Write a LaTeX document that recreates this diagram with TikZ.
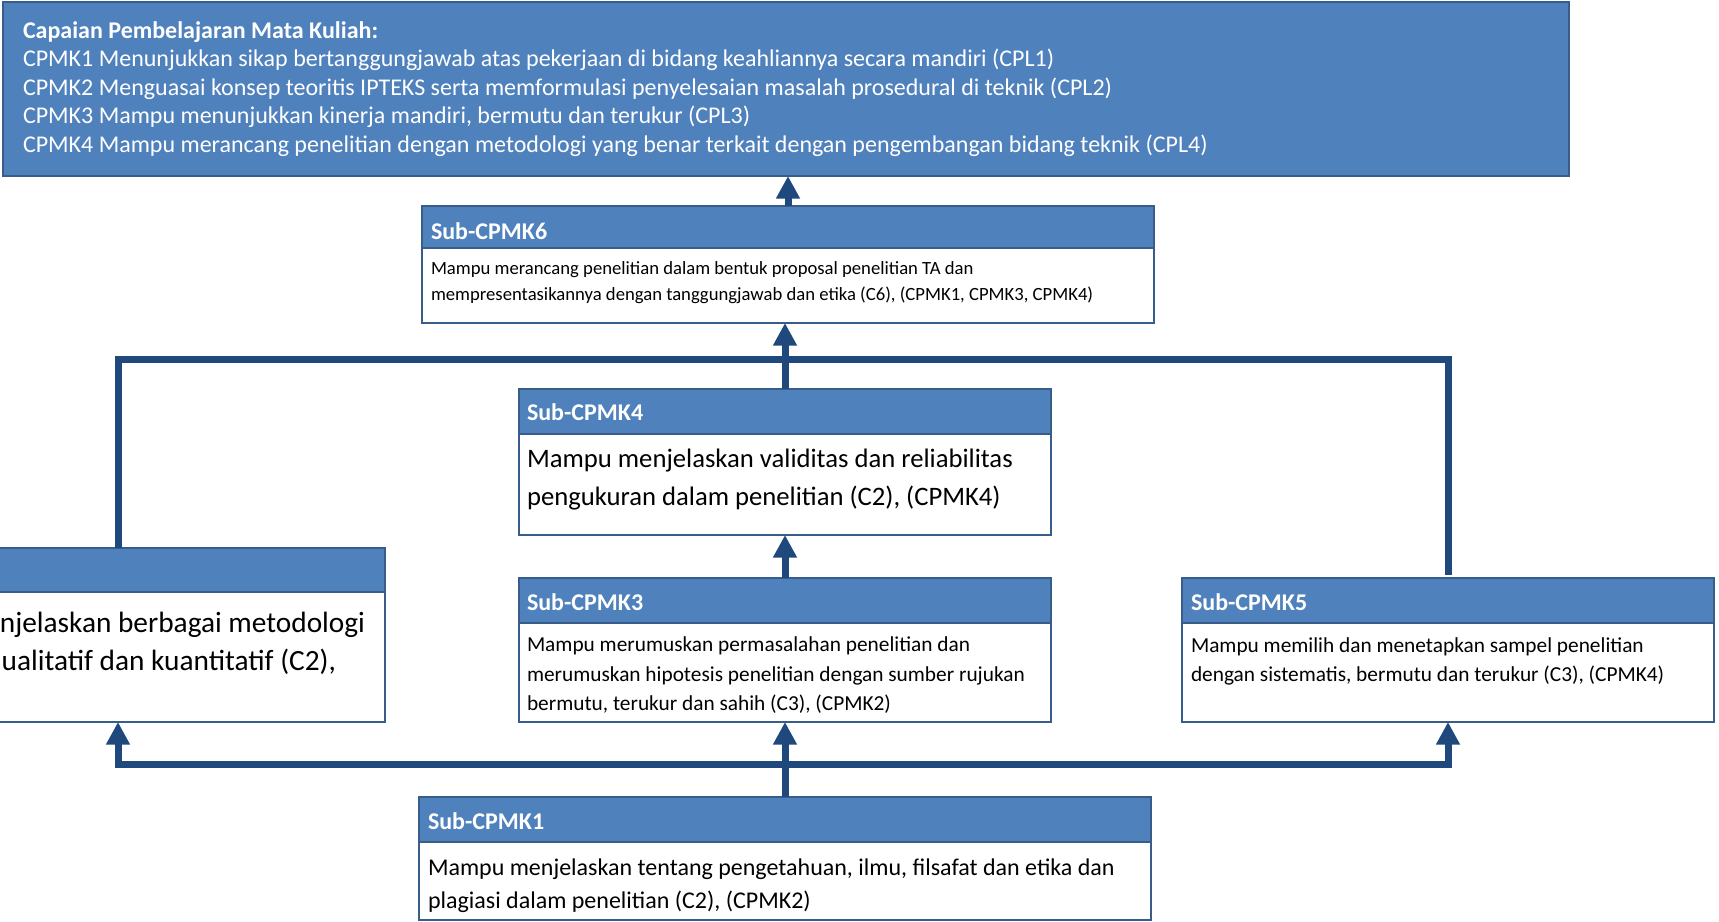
\documentclass[tikz,border=0pt]{standalone}
\usepackage{fontspec}
\setmainfont{Carlito}
\usetikzlibrary{arrows.meta,fit,calc}
\definecolor{hdr}{RGB}{79,129,189}
\definecolor{bord}{RGB}{56,93,138}
\definecolor{conn}{RGB}{31,73,125}
\begin{document}
\begin{tikzpicture}[x=0.75pt,y=-0.75pt,
  bodybox/.style={draw=bord,line width=1.5pt,fill=white,inner sep=0pt,outer sep=0pt},
  headbox/.style={draw=bord,line width=1.5pt,fill=hdr,inner sep=0pt,outer sep=0pt},
  hdrtext/.style={anchor=base west,inner sep=0pt,outer sep=0pt,text=white,font=\fontsize{18}{22}\selectfont\bfseries},
  toptext/.style={anchor=base west,inner sep=0pt,outer sep=0pt,text=white,font=\fontsize{18}{22}\selectfont},
  txtA/.style={anchor=base west,inner sep=0pt,outer sep=0pt,text=black,font=\fontsize{14}{17}\selectfont},
  txtB/.style={anchor=base west,inner sep=0pt,outer sep=0pt,text=black,font=\fontsize{16}{19}\selectfont},
  txtC/.style={anchor=base west,inner sep=0pt,outer sep=0pt,text=black,font=\fontsize{18}{22}\selectfont},
  txtD/.style={anchor=base west,inner sep=0pt,outer sep=0pt,text=black,font=\fontsize{20}{24}\selectfont},
  txtE/.style={anchor=base east,inner sep=0pt,outer sep=0pt,text=black,font=\fontsize{22}{26}\selectfont},
  ln/.style={draw=conn,line width=5.25pt},
  arr/.style={draw=conn,line width=5.25pt,-{Triangle[width=17pt,length=17pt]}}
]
\clip (0,0) rectangle (1719,921);
\fill[white] (0,0) rectangle (1719,921);

% top box
\node[headbox, fit={(3,2)(1569,176)}] (top) {};
\node[toptext, font=\fontsize{18}{22}\selectfont\bfseries] (tt0) at (23,38) {Capaian Pembelajaran Mata Kuliah:};
\node[toptext] (tt1) at (23,66.6) {CPMK1 Menunjukkan sikap bertanggungjawab atas pekerjaan di bidang keahliannya secara mandiri (CPL1)};
\node[toptext] (tt2) at (23,95.2) {CPMK2 Menguasai konsep teoritis IPTEKS serta memformulasi penyelesaian masalah prosedural di teknik (CPL2)};
\node[toptext] (tt3) at (23,123.8) {CPMK3 Mampu menunjukkan kinerja mandiri, bermutu dan terukur (CPL3)};
\node[toptext] (tt4) at (23,152.4) {CPMK4 Mampu merancang penelitian dengan metodologi yang benar terkait dengan pengembangan bidang teknik (CPL4)};

% Sub-CPMK6
\node[bodybox, fit={(422,206)(1154,323)}] (b6) {};
\node[headbox, fit={(422,206)(1154,248)}] (h6) {};
\node[hdrtext] (h6t) at (431,239) {Sub-CPMK6};
\node[txtA] (t6a) at (431,274) {Mampu merancang penelitian dalam bentuk proposal penelitian TA dan};
\node[txtA] (t6b) at (431,300) {mempresentasikannya dengan tanggungjawab dan etika (C6), (CPMK1, CPMK3, CPMK4)};

% Sub-CPMK4
\node[bodybox, fit={(519,389)(1051,535)}] (b4) {};
\node[headbox, fit={(519,389)(1051,434)}] (h4) {};
\node[hdrtext] (h4t) at (527,420) {Sub-CPMK4};
\node[txtD] (t4a) at (527,467) {Mampu menjelaskan validitas dan reliabilitas};
\node[txtD] (t4b) at (527,505) {pengukuran dalam penelitian (C2), (CPMK4)};

% Sub-CPMK3
\node[bodybox, fit={(519,578)(1051,722)}] (b3) {};
\node[headbox, fit={(519,578)(1051,623)}] (h3) {};
\node[hdrtext] (h3t) at (527,610) {Sub-CPMK3};
\node[txtB] (t3a) at (527,651) {Mampu merumuskan permasalahan penelitian dan};
\node[txtB] (t3b) at (527,681) {merumuskan hipotesis penelitian dengan sumber rujukan};
\node[txtB] (t3c) at (527,710) {bermutu, terukur dan sahih (C3), (CPMK2)};

% Sub-CPMK5
\node[bodybox, fit={(1182,578)(1714,722)}] (b5) {};
\node[headbox, fit={(1182,578)(1714,623)}] (h5) {};
\node[hdrtext] (h5t) at (1191,610) {Sub-CPMK5};
\node[txtB] (t5a) at (1191,652) {Mampu memilih dan menetapkan sampel penelitian};
\node[txtB] (t5b) at (1191,681) {dengan sistematis, bermutu dan terukur (C3), (CPMK4)};

% Sub-CPMK2 (cut at left edge)
\node[bodybox, fit={(-149,548)(385,722)}] (b2) {};
\node[headbox, fit={(-149,548)(385,592)}] (h2) {};
\node[txtE] (t2a) at (365,632) {njelaskan berbagai metodologi};
\node[txtE] (t2b) at (336,670) {ualitatif dan kuantitatif (C2),};

% Sub-CPMK1
\node[bodybox, fit={(419,797)(1151,920)}] (b1) {};
\node[headbox, fit={(419,797)(1151,842)}] (h1) {};
\node[hdrtext] (h1t) at (428,829) {Sub-CPMK1};
\node[txtC] (t1a) at (428,875) {Mampu menjelaskan tentang pengetahuan, ilmu, filsafat dan etika dan};
\node[txtC] (t1b) at (428,908) {plagiasi dalam penelitian (C2), (CPMK2)};

% connectors
\coordinate (jt) at (785,359.5);
\coordinate (jb) at (785,764.5);
\draw[arr] (b6.north) -- (b6.north |- top.south);
\draw[arr] (b4.north) -- (b4.north |- b6.south);
\draw[ln] (b2.north) |- (jt) -| ($(b5.north)+(0,-3)$);
\draw[arr] (b3.north) -- (b4.south);
\draw[arr] (b1.north) -- (b3.south);
\draw[arr] (jb) -| (b2.south);
\draw[arr] (jb) -| (b5.south);
\end{tikzpicture}
\end{document}
